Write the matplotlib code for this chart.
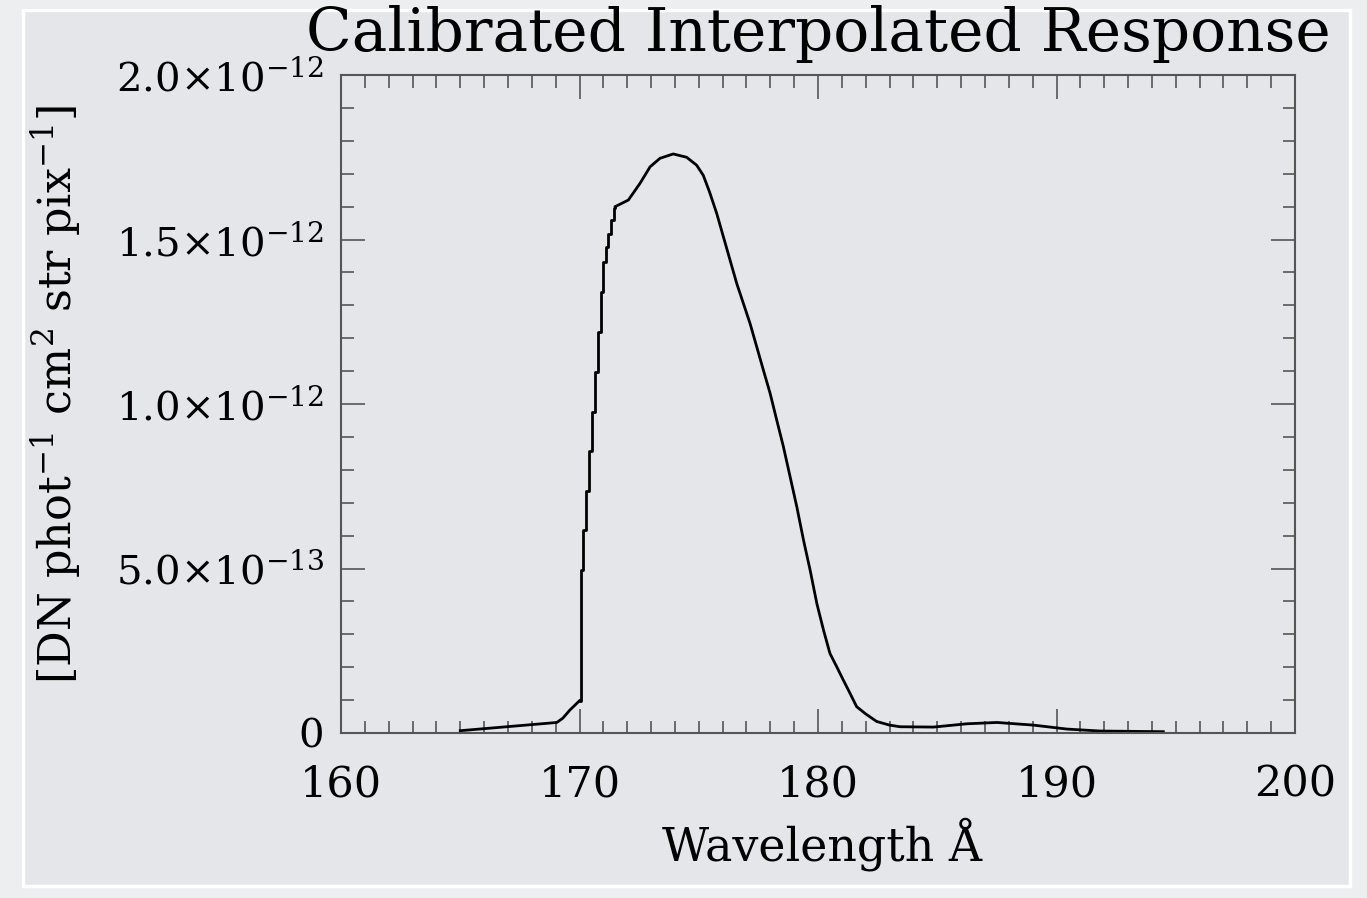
import numpy as np
import matplotlib.pyplot as plt
from matplotlib.patches import Rectangle
from matplotlib.ticker import FixedLocator, MultipleLocator

# Response curve (values in units of 1e-12)
# left wing, drawn as a plain line
wl_lo = [165.0, 169.05, 169.3, 169.6, 170.0]
resp_lo = [0.007, 0.032, 0.045, 0.070, 0.098]

# steep rising edge, drawn as steps
wl_rise = [170.0, 170.05, 170.16, 170.27, 170.41, 170.54, 170.65, 170.76,
           170.89, 171.0, 171.10, 171.21, 171.32, 171.46, 171.5]
resp_rise = [0.098, 0.495, 0.617, 0.735, 0.857, 0.977, 1.098, 1.220,
             1.341, 1.433, 1.478, 1.516, 1.559, 1.595, 1.600]

# peak, falling side and right wing
wl_hi = [171.5, 172.05, 172.54, 172.96, 173.38, 173.93, 174.49, 174.91,
         175.19, 175.45, 175.75, 176.03, 176.31, 176.59, 176.87, 177.15,
         177.43, 177.71, 177.99, 178.27, 178.55, 178.83, 179.11, 179.39,
         179.67, 179.95, 180.23, 180.50, 180.78, 181.06, 181.34, 181.62,
         182.0, 182.46, 183.0, 183.44, 184.84, 186.24, 187.5, 189.03,
         190.43, 191.82, 194.48]
resp_hi = [1.600, 1.620, 1.671, 1.721, 1.747, 1.760, 1.750, 1.726,
           1.695, 1.645, 1.580, 1.509, 1.438, 1.367, 1.306, 1.245,
           1.174, 1.103, 1.033, 0.951, 0.870, 0.779, 0.688, 0.587,
           0.495, 0.394, 0.313, 0.242, 0.202, 0.161, 0.121, 0.080,
           0.058, 0.035, 0.024, 0.019, 0.018, 0.028, 0.032, 0.024,
           0.012, 0.006, 0.004]

yticks = [0, 0.5e-12, 1.0e-12, 1.5e-12, 2.0e-12]
ytick_labels = ['0', r'5.0$\times$10$^{-13}$', r'1.0$\times$10$^{-12}$',
                r'1.5$\times$10$^{-12}$', r'2.0$\times$10$^{-12}$']
xticks = [160, 170, 180, 190, 200]

plt.rcParams['font.family'] = 'DejaVu Serif'
plt.rcParams['mathtext.fontset'] = 'dejavuserif'

bg = '#e4e6e9'
fig = plt.figure(figsize=(13.67, 8.98), dpi=100, facecolor='#eceef0')
# slide panel behind the plot
fig.patches.append(Rectangle((23 / 1367, 1 - 886 / 898), 1327 / 1367, 876 / 898,
                             transform=fig.transFigure, facecolor=bg,
                             edgecolor='white', linewidth=2.5, zorder=-5))

ax = fig.add_axes([341 / 1367, 1 - 733 / 898, 954 / 1367, 658 / 898])
ax.set_zorder(2)
ax.set_facecolor('none')

scale = 1e-12
ax.plot(wl_lo, np.array(resp_lo) * scale, color='black', lw=2)
ax.plot(wl_rise, np.array(resp_rise) * scale, color='black', lw=2,
        drawstyle='steps-post')
ax.plot(wl_hi, np.array(resp_hi) * scale, color='black', lw=2)

ax.set_xlim(160, 200)
ax.set_ylim(0, 2.0e-12)
ax.xaxis.set_major_locator(FixedLocator(xticks))
ax.xaxis.set_minor_locator(MultipleLocator(1))
ax.yaxis.set_major_locator(FixedLocator(yticks))
ax.yaxis.set_minor_locator(MultipleLocator(1e-13))
ax.set_yticklabels(ytick_labels)

for s in ax.spines.values():
    s.set_color('#555555')
    s.set_linewidth(1.5)
ax.tick_params(which='both', direction='in', top=True, right=True,
               color='#555555', width=1.2)
ax.tick_params(which='major', length=17)
ax.tick_params(which='minor', length=9)
ax.tick_params(axis='x', labelsize=31, pad=22)
ax.tick_params(axis='y', labelsize=29, pad=12)

ax.set_xlabel('Wavelength Å', fontsize=33)
ax.xaxis.set_label_coords(0.504, -0.128)
ax.set_ylabel(r'[DN phot$^{-1}$ cm$^{2}$ str pix$^{-1}$]', fontsize=32)
ax.yaxis.set_label_coords(-0.27, 0.514)
ax.text(0.5, 1.063, 'Calibrated Interpolated Response', fontsize=43,
        ha='center', va='center', transform=ax.transAxes)

fig.savefig('out.png', dpi=100, facecolor=fig.get_facecolor())
